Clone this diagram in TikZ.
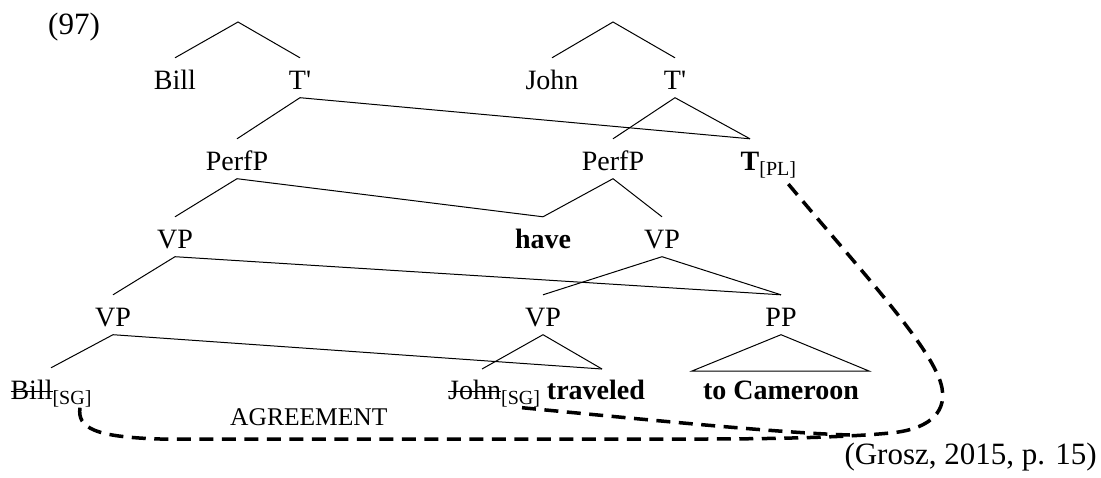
\documentclass[tikz,border=0pt]{standalone}
\usepackage{fontspec}
\setmainfont{Liberation Serif}
\usetikzlibrary{calc}
% struck-through word
\newcommand\xstrike[1]{\leavevmode\setbox0=\hbox{#1}\rlap{\rule[0.24em]{\wd0}{1.3pt}}\box0}
% lowered feature tag
\newcommand\subtag[1]{\raisebox{-5pt}{\fontsize{20}{20}\selectfont #1}}
\begin{document}
\begin{tikzpicture}[x=1pt,y=-1pt,
  lbl/.style={anchor=base,font=\fontsize{28}{32}\selectfont,text height=22.5pt,text depth=0pt,inner xsep=0pt,inner ysep=8.5pt},
  edge/.style={line width=1pt},
  agree/.style={line width=3.5pt,dash pattern=on 14pt off 8.5pt}]
\useasboundingbox (0,0) rectangle (1101,477);

\node[anchor=base west,font=\fontsize{31}{34}\selectfont,inner sep=0pt] (exnum) at (48,34.5) {(97)};

% top apexes
\coordinate (top1) at (238,22);
\coordinate (top2) at (613,22);

% row 1
\node[lbl] (bill1) at (175,89) {Bill};
\node[lbl] (tbar1) at (300,89) {T\textquotesingle};
\node[lbl] (john1) at (552,89) {John};
\node[lbl] (tbar2) at (675,89) {T\textquotesingle};

% row 2
\node[lbl] (perf1) at (237,170) {PerfP};
\node[lbl] (perf2) at (613,170) {PerfP};
\node[lbl] (tpl) at (750,170) {\textbf{T}\rlap{\subtag{[PL]}}};

% row 3
\node[lbl] (vp1) at (175,248) {VP};
\node[lbl] (have) at (543,248) {\textbf{have}};
\node[lbl] (vp2) at (662,248) {VP};

% row 4
\node[lbl] (vp3) at (113,326) {VP};
\node[lbl] (vp4) at (543,326) {VP};
\node[lbl] (pp) at (781,326) {PP};

% row 5
\node[lbl] (bill2) at (51,399) {\xstrike{Bill}\subtag{[SG]}};
\node[lbl,anchor=base west] (jt) at (448,399) {\xstrike{John}\subtag{[SG]} \textbf{traveled}};
\node[lbl] (tc) at (781,399) {\textbf{to Cameroon}};

\coordinate (tvL) at (482,369);
\coordinate (tvR) at (602,369);
\coordinate (ppL) at (692,371);
\coordinate (ppR) at (869,371);

% branches
\draw[edge] (bill1.north) -- (top1) -- (tbar1.north);
\draw[edge] (john1.north) -- (top2) -- (tbar2.north);
\draw[edge] (perf1.north) -- (tbar1.south) -- (tpl.north);
\draw[edge] (perf2.north) -- (tbar2.south) -- (tpl.north);
\draw[edge] (vp1.north) -- (perf1.south) -- (have.north);
\draw[edge] (have.north) -- (perf2.south) -- (vp2.north);
\draw[edge] (vp3.north) -- (vp1.south) -- (pp.north);
\draw[edge] (vp4.north) -- (vp2.south) -- (pp.north);
\draw[edge] (bill2.north) -- (vp3.south) -- (tvR);
\draw[edge] (tvL) -- (vp4.south) -- (tvR);
\draw[edge] (ppL) -- (pp.south) -- (ppR) -- cycle;

% agreement path
\node[anchor=base west,font=\fontsize{25.5}{28}\selectfont,inner sep=0pt] (agr) at (230,425) {AGREEMENT};
\draw[agree] ($(bill2.south)+(29,0)$) .. controls (77,428) and (95,437) .. (160,439)
  -- (700,439) .. controls (800,439) and (860,436) .. (890,433)
  .. controls (925,430) and (947,415) .. (942,388)
  .. controls (935,350) and (860,270) .. ($(tpl.south east)+(26,2)$);
\draw[agree] ($(jt.south west)+(74,0)$) .. controls (650,420) and (780,433) .. (850,435);

\node[anchor=base east,font=\fontsize{31}{34}\selectfont,inner sep=0pt] (cite) at (1097,464.5) {(Grosz, 2015, p. 15)};
\end{tikzpicture}
\end{document}
